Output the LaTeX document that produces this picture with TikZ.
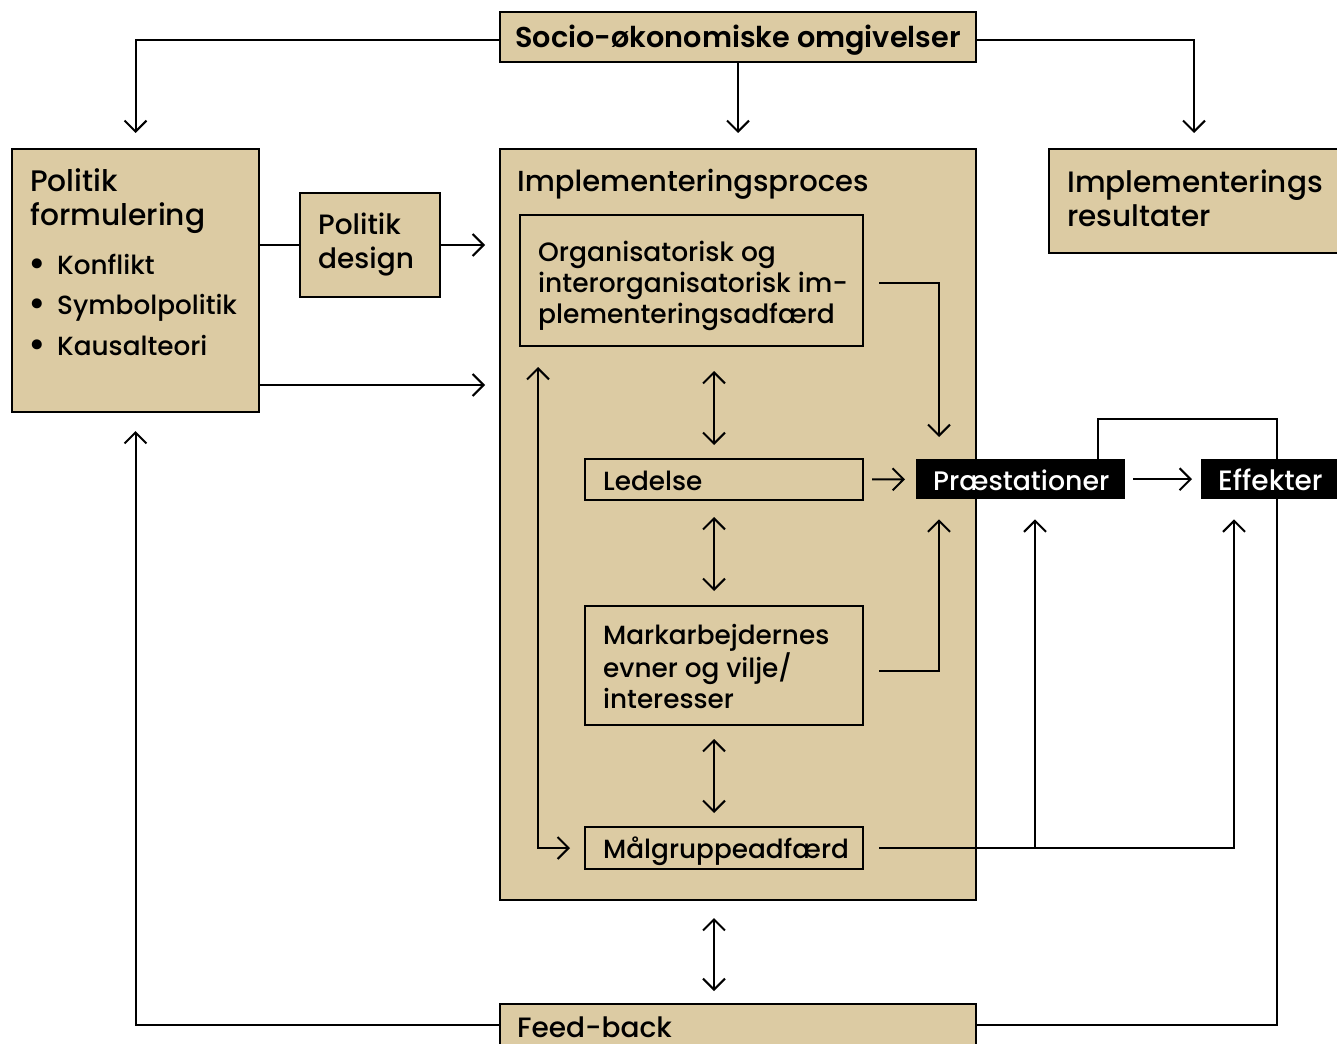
\documentclass[tikz,border=0pt]{standalone}
\usepackage{fontspec}
\setmainfont{Poppins Medium}[BoldFont={Poppins SemiBold}]
\usetikzlibrary{arrows.meta,calc}
\definecolor{tan}{RGB}{220,203,163}
\newcommand{\bul}{\makebox[29pt][l]{\raisebox{-2pt}{\fontsize{38}{38}\selectfont•}}}
\begin{document}
\begin{tikzpicture}[x=1pt,y=-1pt,
  box/.style={draw=black, line width=2pt, fill=tan, anchor=north west, inner sep=0pt},
  blk/.style={fill=black, anchor=north west, inner sep=0pt},
  txt/.style={anchor=west, inner sep=0pt, align=left, font=\fontsize{29}{34}\selectfont},
  stxt/.style={txt, font=\fontsize{26.3}{31}\selectfont},
  wtxt/.style={txt, text=white, font=\fontsize{26.8}{31}\selectfont},
  arr/.style={line width=2pt, -{Straight Barb[length=11pt,width=22pt]}},
  darr/.style={line width=2pt, {Straight Barb[length=11pt,width=22pt]}-{Straight Barb[length=11pt,width=22pt]}},
  ln/.style={line width=2pt}
]
\useasboundingbox (0,0) rectangle (1337,1043);
\clip (0,0) rectangle (1337,1043);

% boxes
\node[box, minimum width=476pt, minimum height=50pt] (socio) at (499,11) {};
\node[font=\bfseries\fontsize{28.7}{30}\selectfont, inner sep=0pt] (sociot) at ([yshift=-3pt]socio.center) {Socio-økonomiske omgivelser};

\node[box, minimum width=247pt, minimum height=263pt] (pf) at (11,148) {};
\node[txt, anchor=north west, font=\fontsize{29.7}{34}\selectfont] (pft) at (30,168) {Politik\\formulering};
\node[txt, anchor=north west, font=\fontsize{26.3}{40.5}\selectfont] (pfb) at (28,253.5) {\bul Konflikt\\\bul Symbolpolitik\\\bul Kausalteori};

\node[box, minimum width=140pt, minimum height=104pt] (design) at (299,192) {};
\node[txt, font=\fontsize{28}{34}\selectfont] (designt) at ([xshift=19pt]design.west) {Politik\\design};

\node[box, minimum width=476pt, minimum height=751pt] (impl) at (499,148) {};
\node[txt, anchor=north west] (implt) at (517,169) {Implementeringsproces};

\node[box, minimum width=290pt, minimum height=104pt] (res) at (1048,148) {};
\node[txt, font=\fontsize{29.5}{34}\selectfont] (rest) at ([xshift=19pt,yshift=3pt]res.west) {Implementerings\\resultater};

\node[box, minimum width=343pt, minimum height=131pt] (org) at (519,214) {};
\node[stxt, font=\fontsize{26.5}{31}\selectfont] (orgt) at ([xshift=19pt,yshift=-5pt]org.west) {Organisatorisk og\\interorganisatorisk im-\\plementeringsadfærd};

\node[box, minimum width=278pt, minimum height=41pt] (led) at (584,458) {};
\node[stxt] (ledt) at ([xshift=19pt,yshift=-1pt]led.west) {Ledelse};

\node[box, minimum width=278pt, minimum height=119pt] (mark) at (584,605) {};
\node[stxt] (markt) at ([xshift=19pt,yshift=-1pt]mark.west) {Markarbejdernes\\evner og vilje/\\interesser};

\node[box, minimum width=278pt, minimum height=42pt] (malg) at (584,826) {};
\node[stxt] (malgt) at ([xshift=19pt,yshift=-3pt]malg.west) {Målgruppeadfærd};

\node[blk, minimum width=209pt, minimum height=40pt] (praest) at (916,459) {};
\node[wtxt] (praestt) at ([xshift=17pt,yshift=-1pt]praest.west) {Præstationer};

\node[blk, minimum width=152pt, minimum height=40pt] (eff) at (1201,459) {};
\node[wtxt, font=\fontsize{28}{31}\selectfont] (efft) at ([xshift=17pt,yshift=-1pt]eff.west) {Effekter};

\node[box, minimum width=476pt, minimum height=42pt] (fb) at (499,1003) {};
\node[txt, font=\fontsize{28}{34}\selectfont] (fbt) at ([xshift=18pt,yshift=-2pt]fb.west) {Feed-back};

% helper coordinates
\coordinate (mx) at (714,0);
\coordinate (pa) at ([xshift=23pt]praest.north west);
\coordinate (pb) at ([xshift=119pt,yshift=-20pt]praest.south west);
\coordinate (eb) at ([xshift=33pt,yshift=-20pt]eff.south west);
\coordinate (loopx) at ([xshift=19pt,yshift=-20pt]org.south west);
\coordinate (pfo) at ([yshift=28pt]pf.south east);
\coordinate (ptop) at ([xshift=-27pt]praest.north east);
\coordinate (sw) at ([yshift=-3pt]socio.west);
\coordinate (se) at ([yshift=-3pt]socio.east);

% connectors from socio
\draw[arr, shorten >=15pt] (sw) -| (pf.north);
\draw[arr, shorten >=15pt] (socio.south) -- (impl.north);
\draw[arr, shorten >=15pt] (se) -| (res.north);

% politik
\draw[ln] (pf.east |- design.west) -- (design.west);
\draw[arr, shorten >=14pt] (design.east) -- (design.east -| impl.west);
\draw[arr, shorten >=14pt] (pfo) -- (pfo -| impl.west);

% inside implementation
\draw[arr, shorten >=22pt] ([xshift=15pt,yshift=-2pt]org.east) -| (pa);
\draw[darr] ([yshift=-24pt]org.south -| mx) -- ([yshift=13pt]led.north -| mx);
\draw[darr] ([yshift=-16pt]led.south -| mx) -- ([yshift=14pt]mark.north -| mx);
\draw[darr] ([yshift=-13pt]mark.south -| mx) -- ([yshift=13pt]malg.north -| mx);
\draw[darr] ([yshift=-17pt]impl.south -| mx) -- ([yshift=12pt]fb.north -| mx);
\draw[arr, shorten <=8pt, shorten >=11pt] (led.east) -- (praest.west);
\draw[arr] ([xshift=15pt,yshift=-5pt]mark.east) -| ([xshift=23pt,yshift=-20pt]praest.south west);
\draw[darr, shorten >=14pt] (loopx) |- (malg.west);

% outputs
\draw[arr, shorten <=8pt, shorten >=9pt] (praest.east) -- (eff.west);
\draw[ln] (ptop) |- ([yshift=40pt]eff.north) -- (eff.north);
\draw[arr] ([xshift=15pt]malg.east) -| (eb);
\draw[arr] (pb |- malg.east) -- (pb);

% feedback
\draw[ln] (eff.south) |- (fb.east);
\draw[arr, shorten >=18pt] (fb.west) -| (pf.south);
\end{tikzpicture}
\end{document}
